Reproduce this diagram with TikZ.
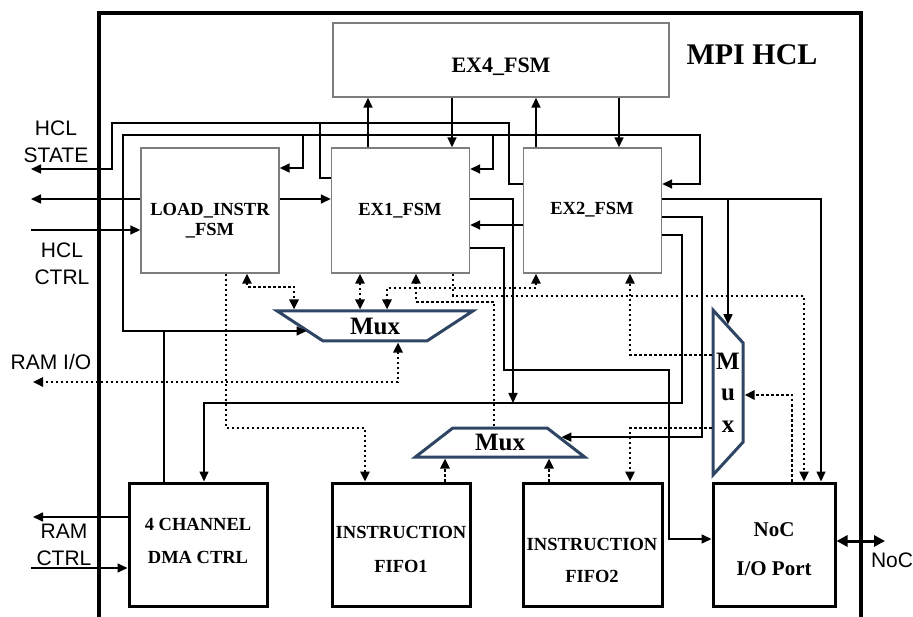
\documentclass[tikz,border=0pt]{standalone}
\usepackage{fontspec}
\setmainfont{Liberation Serif}
\newfontfamily\arialfont{Liberation Sans}
\usetikzlibrary{arrows.meta,shapes.geometric}
\definecolor{muxblue}{RGB}{46,70,100}
\definecolor{fsmgray}{RGB}{125,125,125}
\tikzset{
  fsm/.style={draw=fsmgray, line width=1.4pt, minimum width=138pt,
    minimum height=125pt, inner sep=0pt},
  hwbox/.style={draw, line width=3pt, minimum width=138pt,
    minimum height=123pt, inner sep=0pt},
  mux/.style={trapezium, draw=muxblue, line width=3pt, inner sep=0pt,
    trapezium stretches=true, align=center,
    font=\bfseries\fontsize{25}{31.5}\selectfont},
  boxtxt/.style={inner sep=0pt, align=center,
    font=\bfseries\fontsize{18.5}{20}\selectfont},
  sidetxt/.style={inner sep=0pt, align=center,
    font=\arialfont\fontsize{21}{27}\selectfont},
  sig/.style={line width=1.6pt},
  dsig/.style={line width=2.4pt, dash pattern=on 2.4pt off 2.6pt}}

\begin{document}
\begin{tikzpicture}[x=1pt, y=-1pt, >={Triangle[length=10pt, width=9pt]}]
  \useasboundingbox (0,0) rectangle (913,617);
  % outer frame
  \draw[line width=4pt] (99,617) -- (99,13) -- (861,13) -- (861,617);
  \node[boxtxt, font=\bfseries\fontsize{30}{32}\selectfont] (title) at (752,55) {MPI HCL};

  % state machines
  \node[fsm, minimum width=336pt, minimum height=74pt] (ex4) at (501,60) {};
  \node[fsm] (load) at (210,210.5) {};
  \node[fsm] (ex1)  at (400.5,210.5) {};
  \node[fsm] (ex2)  at (592.5,210.5) {};
  \node[boxtxt, font=\bfseries\fontsize{22}{24}\selectfont] (ex4txt) at (501,67) {EX4\_FSM};
  \node[boxtxt] (loadtxt) at (210,221) {LOAD\_INSTR\\\_FSM};
  \node[boxtxt] (ex1txt) at (400,211) {EX1\_FSM};
  \node[boxtxt] (ex2txt) at (592,210) {EX2\_FSM};

  % hardware blocks
  \node[hwbox] (dma)   at (198,544.5) {};
  \node[hwbox] (fifoa) at (401,544.5) {};
  \node[hwbox, minimum width=139pt] (fifob) at (592.5,544.5) {};
  \node[hwbox, minimum width=122pt] (noc)   at (774,544.5) {};
  \node[boxtxt] (dmatxt) at (198,540.5) {4 CHANNEL\\[13pt]DMA CTRL};
  \node[boxtxt] (fifoatxt) at (401,549) {INSTRUCTION\\[14pt]FIFO1};
  \node[boxtxt] (fifobtxt) at (592,560) {INSTRUCTION\\[12pt]FIFO2};
  \node[boxtxt, font=\bfseries\fontsize{21}{23}\selectfont] (noctxt) at (774,549.5) {NoC\\[16pt]I/O Port};

  % multiplexers
  \node[mux, shape border rotate=180, minimum width=196pt, minimum height=30pt,
    trapezium angle=37] (muxa) at (375,326) {Mux};
  \node[mux, minimum width=170pt, minimum height=29pt,
    trapezium angle=40] (muxb) at (500,442.5) {Mux};
  \node[mux, shape border rotate=270, minimum width=165pt, minimum height=30pt,
    trapezium angle=42] (muxc) at (728,392.5) {M\\u\\x};

  % outside labels
  \node[sidetxt] (statetxt)   at (56,141.5) {HCL\\STATE};
  \node[sidetxt] (ctrltxt)    at (62,263.5) {HCL\\CTRL};
  \node[sidetxt] (ramiotxt)   at (51,362)   {RAM I/O};
  \node[sidetxt] (ramctrltxt) at (64,544.5) {RAM\\CTRL};
  \node[sidetxt] (nocext)     at (892,560)  {NoC};
  \coordinate (stateout) at (31,169);
  \coordinate (ldout) at (31,199);
  \coordinate (ctrlin) at (31,230);
  \coordinate (ramio) at (33,382);
  \coordinate (ramout) at (33,517);
  \coordinate (ramin) at (31,568);
  \coordinate (nocio) at (885,541);

  % solid signals
  \draw[line width=2.6pt] (ex1.west |- 0,178) -| (320,123);
  \draw[sig, ->] (320,123) -| (112,169) -- (stateout);
  \draw[sig] (ex2.west |- 0,184) -| (509,123) -- (320,123);
  \draw[sig, ->] (164,0 |- dma.north) -- (164,331) -| (123,135) -| (700,184)
    -- (ex2.east |- 0,184);
  \draw[sig, ->] (303,135) |- (load.east |- 0,168);
  \draw[sig, ->] (493,135) |- (ex1.east |- 0,169);
  \draw[sig, ->] (164,331) -- (164,331 -| muxa.185);
  \draw[sig, ->] (load.west |- ldout) -- (ldout);
  \draw[sig, ->] (ctrlin) -- (load.west |- ctrlin);
  \draw[sig, ->] (load.east |- 0,199) -- (ex1.west |- 0,199);
  \draw[sig, ->] (368,0 |- ex1.north) -- (368,0 |- ex4.south);
  \draw[sig, ->] (452,0 |- ex4.south) -- (452,0 |- ex1.north);
  \draw[sig, ->] (536,0 |- ex2.north) -- (536,0 |- ex4.south);
  \draw[sig, ->] (619,0 |- ex4.south) -- (619,0 |- ex2.north);
  \draw[sig, ->] (ex2.west |- 0,225) -- (ex1.east |- 0,225);
  \draw[sig, ->] (ex1.east |- 0,199) -| (513,403);
  \draw[sig, ->] (ex2.east |- 0,235) -| (682,403) -| (204,0 |- dma.north);
  \draw[sig, ->] (ex1.east |- 0,248) -| (504,370) -| (669,539) -- (noc.west |- 0,539);
  \draw[sig, ->] (ex2.east |- 0,199) -| (821,0 |- noc.north);
  \draw[sig, ->] (muxc.north |- 0,199) -- (muxc.north);
  \draw[sig, ->] (ex2.east |- 0,217) -| (702,0 |- muxb.5) -- (muxb.5);
  \draw[sig, ->] (dma.west |- ramout) -- (ramout);
  \draw[sig, ->] (ramin) -- (dma.west |- ramin);
  \draw[line width=3pt, {Triangle[length=11pt, width=11pt]}-{Triangle[length=11pt, width=11pt]}]
    (noc.east |- nocio) -- (nocio);

  % dotted data paths
  \draw[dsig, ->] (226,0 |- load.south) |- (365,428) -- (365,0 |- fifoa.north);
  \draw[dsig, <->] (247,0 |- load.south) |- (294,287) -- (294,0 |- muxa.north);
  \draw[dsig, <->] (360,0 |- ex1.south) -- (360,0 |- muxa.north);
  \draw[dsig, <->] (536,0 |- ex2.south) |- (387,288) -- (387,0 |- muxa.north);
  \draw[dsig, ->] (494,0 |- muxb.north) |- (416,302) -- (416,0 |- ex1.south);
  \draw[dsig, ->] (453,0 |- ex1.south) |- (804,296) -- (804,0 |- noc.north);
  \draw[dsig, <->] (398,0 |- muxa.south) |- (ramio);
  \draw[dsig, ->] (muxc.west |- 0,355) -| (630,0 |- ex2.south);
  \draw[dsig, ->] (muxc.west |- 0,428) -| (630,0 |- fifob.north);
  \draw[dsig, ->] (792,0 |- noc.north) |- (muxc.east |- 0,395);
  \draw[dsig, ->] (445,0 |- fifoa.north) -- (445,0 |- muxb.south);
  \draw[dsig, ->] (549,0 |- fifob.north) -- (549,0 |- muxb.south);
\end{tikzpicture}
\end{document}
